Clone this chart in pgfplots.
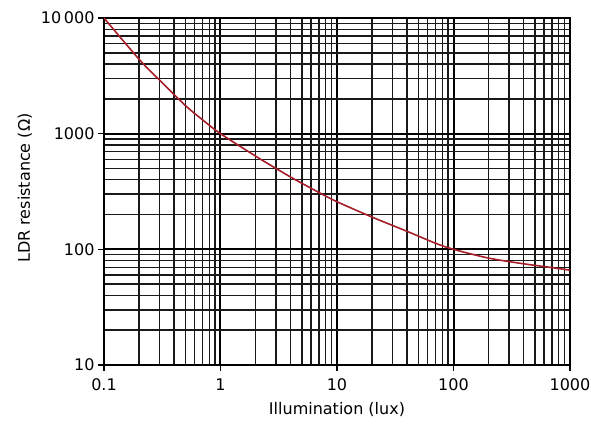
\documentclass[border=0pt]{standalone}
\usepackage{fontspec}
\setmainfont{DejaVu Sans}
\usepackage{pgfplots}
\pgfplotsset{compat=1.18}
\definecolor{curvered}{RGB}{165,30,40}
\begin{document}
\begin{tikzpicture}[x=1pt,y=1pt]
\path[use as bounding box] (-104,-60) rectangle (487,365);
\begin{axis}[
  at={(0,0)}, anchor=south west,
  scale only axis, width=466pt, height=347pt,
  xmode=log, ymode=log,
  xmin=0.1, xmax=1000, ymin=10, ymax=10000,
  xtick={0.1,1,10,100,1000}, xticklabels={0.1,1,10,100,1000},
  ytick={10,100,1000,10000}, yticklabels={10,100,1000,10\,000},
  xtick pos=lower, ytick pos=left,
  grid=both,
  major grid style={black, line width=2.0pt},
  minor grid style={black!90, line width=1.4pt},
  tick align=outside, major tick length=6pt, minor tick length=0pt,
  tick style={black, line width=1.2pt},
  axis line style={black, line width=1.4pt},
  ticklabel style={font=\fontsize{16}{16}\selectfont},
  xticklabel style={yshift=-4pt},
  label style={font=\fontsize{16}{16}\selectfont},
  xlabel={Illumination (lux)}, ylabel={LDR resistance (Ω)},
  xlabel style={at={(axis description cs:0.5,0)}, anchor=center, yshift=-44pt},
  ylabel style={at={(axis description cs:-0.17,0.51)}, anchor=center},
]
\addplot[curvered, line width=1.6pt, smooth] coordinates {
(0.1,10000) (0.2,4400) (0.3,2900) (0.5,1750) (0.7,1320) (1,1000) (2,640) (3,500)
(4.2,410) (7,310) (10,258) (20,190) (40,143) (70,113) (100,100) (200,84) (400,75) (700,69.5) (1000,66)
};
\end{axis}
\end{tikzpicture}
\end{document}
